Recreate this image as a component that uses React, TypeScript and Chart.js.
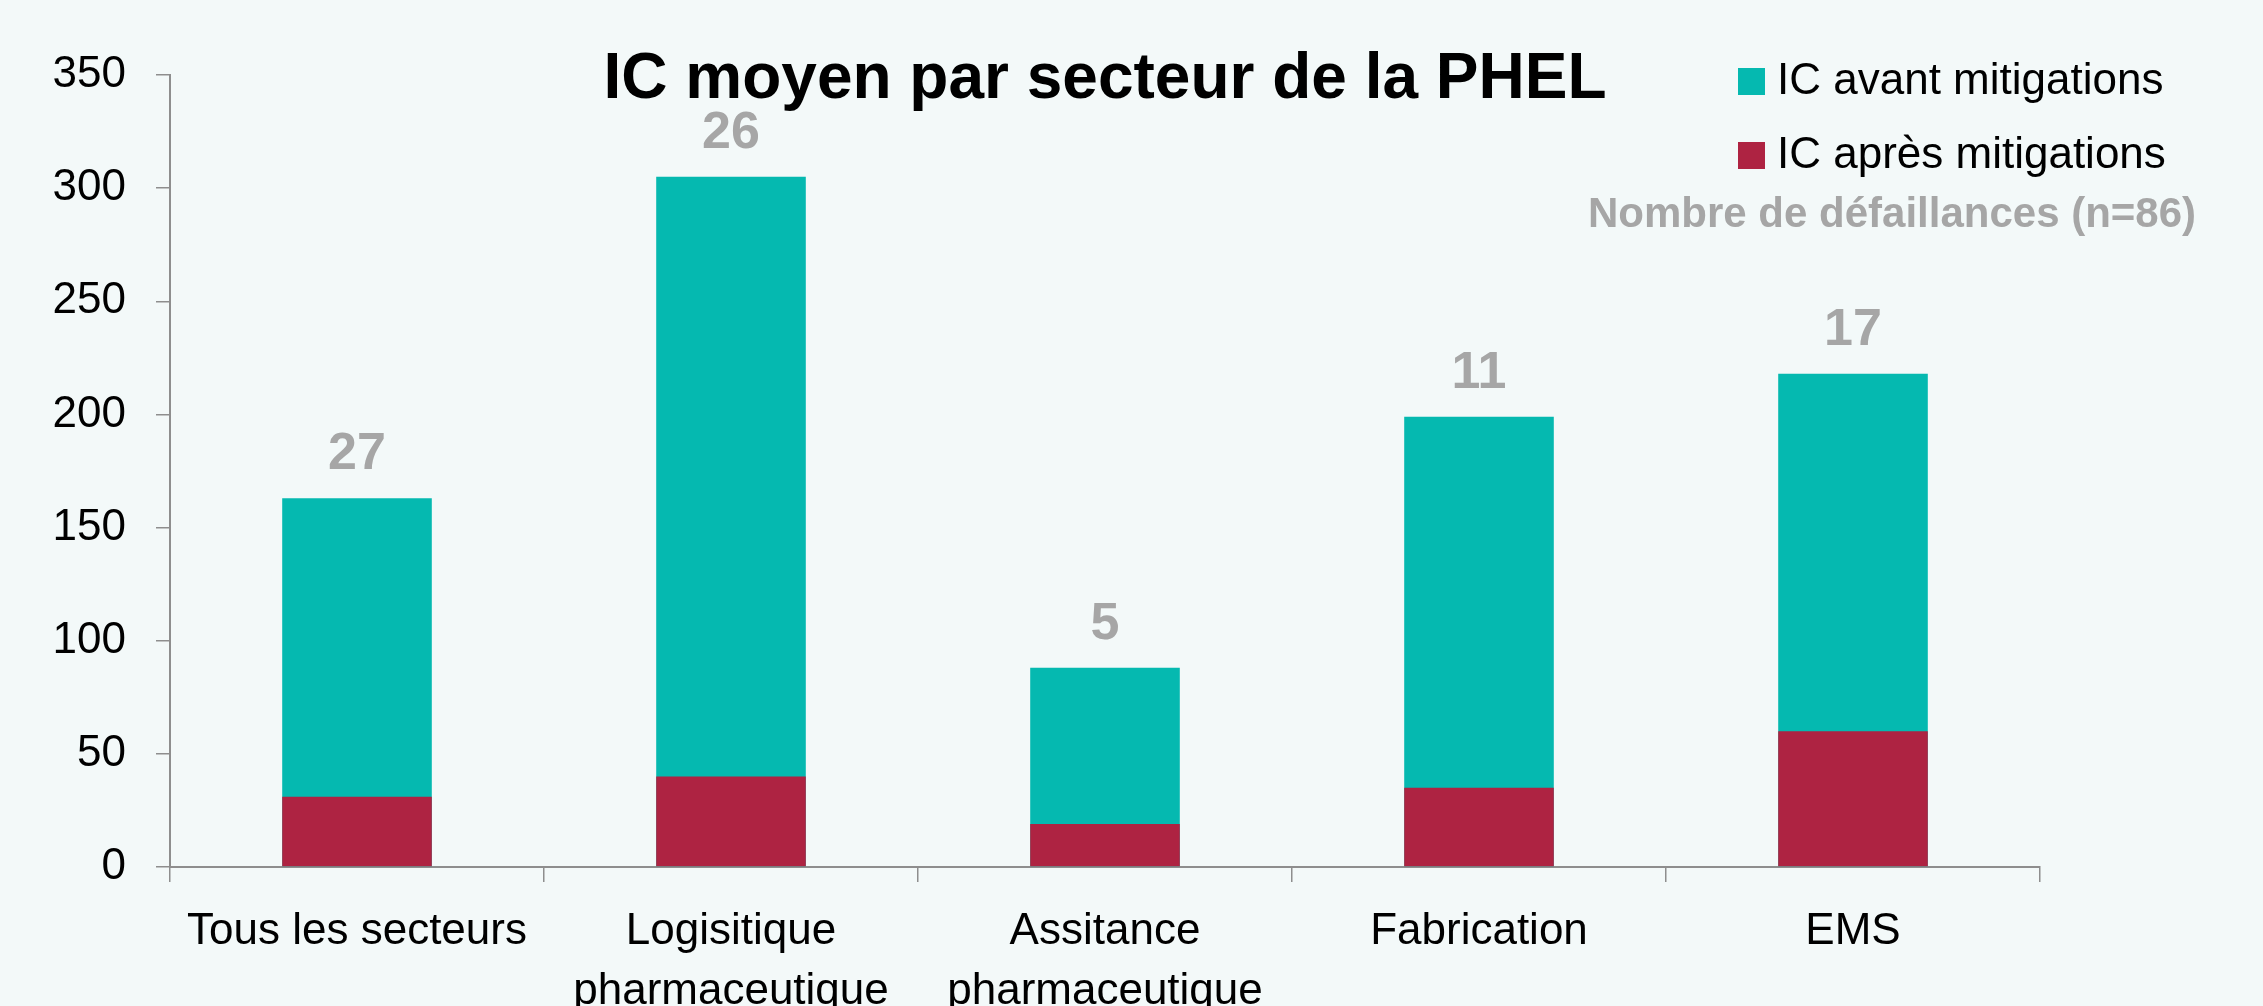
import React, { useEffect, useRef } from 'react';
import { Chart, registerables } from 'chart.js';

Chart.register(...registerables);

// ---- Data ----
const categories: string[][] = [
  ['Tous les secteurs'],
  ['Logisitique', 'pharmaceutique'],
  ['Assitance', 'pharmaceutique'],
  ['Fabrication'],
  ['EMS'],
];
const icAvant = [163, 305, 88, 199, 218];
const icApres = [31, 40, 19, 35, 60];
const defaillances = [27, 26, 5, 11, 17];
const yMin = 0;
const yMax = 350;
const yStep = 50;
const titleText = 'IC moyen par secteur de la PHEL';
const seriesNames = ['IC avant mitigations', 'IC après mitigations'];
const countLegend = 'Nombre de défaillances (n=86)';

// ---- Style ----
const BG = '#F3F9F9';
const TEAL = '#05B9B0';
const RED = '#AE2342';
const AXIS = '#8E8E8E';
const GREY_TXT = '#A6A6A6';
const SANS = '"Liberation Sans", Arial, sans-serif';
const W = 2263;
const H = 1006;

const decor = {
  id: 'decor',
  beforeDraw(chart: any) {
    const ctx = chart.ctx;
    ctx.save();
    ctx.fillStyle = BG;
    ctx.fillRect(0, 0, chart.width, chart.height);
    ctx.restore();
  },
  afterDatasetsDraw(chart: any) {
    const ctx = chart.ctx;
    const area = chart.chartArea;
    ctx.save();
    // Title
    ctx.font = `bold 64px ${SANS}`;
    ctx.fillStyle = '#000';
    ctx.textAlign = 'center';
    ctx.textBaseline = 'alphabetic';
    ctx.fillText(titleText, (area.left + area.right) / 2, 98);

    // Count labels above bars
    ctx.font = `bold 52px ${SANS}`;
    ctx.fillStyle = GREY_TXT;
    const meta = chart.getDatasetMeta(0);
    meta.data.forEach((bar: any, i: number) => {
      ctx.fillText(String(defaillances[i]), bar.x, bar.y - 29);
    });

    // Legend
    const colors = [TEAL, RED];
    const lx = 1738;
    const ly = [82, 156];
    ctx.textAlign = 'left';
    ctx.textBaseline = 'middle';
    ctx.font = `44px ${SANS}`;
    seriesNames.forEach((name, i) => {
      ctx.fillStyle = colors[i];
      ctx.fillRect(lx, ly[i] - 14, 27, 27);
      ctx.fillStyle = '#000';
      ctx.fillText(name, lx + 39, ly[i]);
    });
    ctx.font = `bold 42px ${SANS}`;
    ctx.fillStyle = GREY_TXT;
    ctx.textBaseline = 'alphabetic';
    ctx.fillText(countLegend, 1588, 227);
    ctx.restore();
  },
};

export default function App() {
  const ref = useRef<HTMLCanvasElement>(null);
  useEffect(() => {
    document.body.style.margin = '0';
    document.body.style.background = BG;
    const chart = new Chart(ref.current as HTMLCanvasElement, {
      type: 'bar',
      data: {
        labels: categories,
        datasets: [
          {
            label: seriesNames[0],
            data: icAvant,
            backgroundColor: TEAL,
            order: 2,
            barPercentage: 0.4,
            categoryPercentage: 1,
          },
          {
            label: seriesNames[1],
            data: icApres,
            backgroundColor: RED,
            order: 1,
            barPercentage: 0.4,
            categoryPercentage: 1,
          },
        ],
      },
      options: {
        animation: false,
        responsive: false,
        maintainAspectRatio: false,
        layout: { padding: { left: 0, right: 223, top: 75, bottom: 0 } },
        plugins: {
          legend: { display: false },
          title: { display: false },
          tooltip: { enabled: false },
        },
        scales: {
          x: {
            stacked: true,
            offset: true,
            grid: {
              display: true,
              offset: true,
              drawOnChartArea: false,
              drawTicks: true,
              tickLength: 15,
              color: AXIS,
              lineWidth: 1.5,
            },
            border: { display: true, color: AXIS, width: 2 },
            ticks: {
              color: '#000',
              font: { family: SANS, size: 44, lineHeight: 1.36 },
              padding: 20,
              maxRotation: 0,
              autoSkip: false,
            },
            afterFit(scale: any) {
              scale.height = 139;
            },
          },
          y: {
            stacked: false,
            min: yMin,
            max: yMax,
            grid: {
              display: true,
              drawOnChartArea: false,
              drawTicks: true,
              tickLength: 14,
              color: AXIS,
              lineWidth: 1.5,
            },
            border: { display: true, color: AXIS, width: 2 },
            ticks: {
              stepSize: yStep,
              color: '#000',
              font: { family: SANS, size: 44 },
              padding: 30,
            },
            afterFit(scale: any) {
              scale.width = 170;
            },
          },
        },
      },
      plugins: [decor],
    });
    return () => chart.destroy();
  }, []);

  return (
    <div style={{ position: 'fixed', left: 0, top: 0, width: W, height: H, background: BG, overflow: 'hidden' }}>
      <canvas ref={ref} width={W} height={H} style={{ width: W, height: H, display: 'block' }} />
    </div>
  );
}
